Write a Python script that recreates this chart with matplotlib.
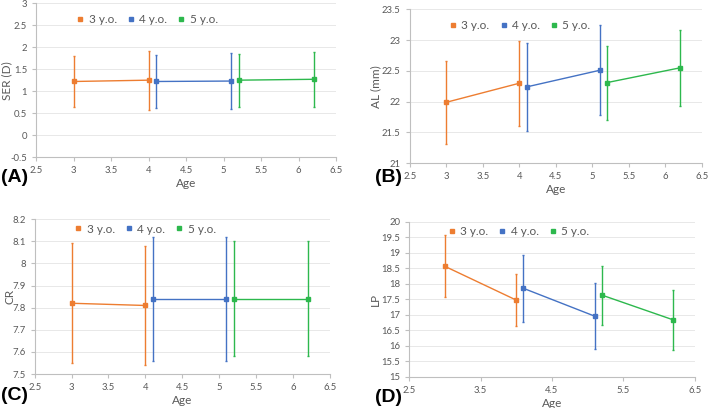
import matplotlib
matplotlib.use("Agg")
import matplotlib.pyplot as plt
from matplotlib.ticker import FuncFormatter, MultipleLocator, FixedLocator

plt.rcParams["font.family"] = ["Lato", "DejaVu Sans"]

# Groupes (âge au début)
groups = ["3 y.o.", "4 y.o.", "5 y.o."]
colors = ["#ED7D31", "#4472C4", "#2DB84D"]
ages = [[3.0, 4.0], [4.1, 5.1], [5.2, 6.2]]

# Moyennes et écarts-types
ser_mean = [[1.22, 1.25], [1.22, 1.23], [1.25, 1.27]]
ser_sd = [[0.58, 0.67], [0.60, 0.64], [0.60, 0.62]]

al_mean = [[21.99, 22.30], [22.24, 22.51], [22.31, 22.55]]
al_sd = [[0.67, 0.69], [0.71, 0.73], [0.60, 0.62]]

cr_mean = [[7.82, 7.81], [7.84, 7.84], [7.84, 7.84]]
cr_sd = [[0.27, 0.27], [0.28, 0.28], [0.26, 0.26]]

lp_mean = [[18.57, 17.48], [17.86, 16.96], [17.64, 16.84]]
lp_sd = [[1.00, 0.85], [1.09, 1.06], [0.95, 0.97]]

x_ticks_abc = [2.5, 3, 3.5, 4, 4.5, 5, 5.5, 6, 6.5]
x_ticks_d = [2.5, 3.5, 4.5, 5.5, 6.5]

# tag, ylabel, moyennes, sd, ylim, pas y, ticks x, position, légende y, x du ylabel, tag (x, y) en pixels
panels = [
    ("(A)", "SER (D)", ser_mean, ser_sd, (-0.5, 3), 0.5, x_ticks_abc,
     [0.051, 0.615, 0.423, 0.377], 1.0, -0.097, (1, 178)),
    ("(B)", "AL (mm)", al_mean, al_sd, (21, 23.5), 0.5, x_ticks_abc,
     [0.578, 0.600, 0.412, 0.377], 1.0, -0.118, (375, 178)),
    ("(C)", "CR", cr_mean, cr_sd, (7.5, 8.2), 0.1, x_ticks_abc,
     [0.049, 0.083, 0.416, 0.380], 1.04, -0.085, (1, 396)),
    ("(D)", "LP", lp_mean, lp_sd, (15, 20), 0.5, x_ticks_d,
     [0.577, 0.076, 0.403, 0.380], 1.04, -0.119, (375, 397)),
]

fmt = FuncFormatter(lambda v, p: f"{v:g}")
W, H = 709, 408

fig = plt.figure(figsize=(7.09, 4.08), dpi=100)

for tag, ylab, means, sds, ylim, ystep, xt, rect, legy, ylx, tagpos in panels:
    ax = fig.add_axes(rect)
    for g, c, x, m, s in zip(groups, colors, ages, means, sds):
        ax.errorbar(x, m, yerr=s, color=c, lw=1, elinewidth=1, capsize=1,
                    marker="s", ms=3, label=g)
    ax.set_xlim(2.5, 6.5)
    ax.set_ylim(*ylim)
    ax.xaxis.set_major_locator(FixedLocator(xt))
    ax.yaxis.set_major_locator(MultipleLocator(ystep))
    ax.xaxis.set_major_formatter(fmt)
    ax.yaxis.set_major_formatter(fmt)
    ax.grid(axis="y", color="#E4E4E4", lw=0.6)
    ax.set_axisbelow(True)
    for sp in ["top", "right"]:
        ax.spines[sp].set_visible(False)
    for sp in ["left", "bottom"]:
        ax.spines[sp].set_color("#BFBFBF")
    ax.tick_params(labelsize=6.8, colors="#595959", length=3, color="#BFBFBF")
    ax.set_xlabel("Age", fontsize=8.5, color="#595959", va="center")
    ax.xaxis.set_label_coords(0.5, -0.17)
    ax.set_ylabel(ylab, fontsize=8.5, color="#595959", va="center")
    ax.yaxis.set_label_coords(ylx, 0.5)
    handles = [plt.Line2D([], [], ls="", marker="s", ms=3, color=c) for c in colors]
    ax.legend(handles, groups, loc="upper left", bbox_to_anchor=(0.1, legy), ncol=3,
              frameon=False, fontsize=8.5, handlelength=0.6, handletextpad=0.4,
              columnspacing=0.9, labelcolor="#595959")
    fig.text(tagpos[0] / W, 1 - tagpos[1] / H, tag, fontsize=14,
             fontweight="bold", va="center", ha="left",
             family=["Liberation Sans", "DejaVu Sans"])

plt.savefig("out.png", dpi=100)
